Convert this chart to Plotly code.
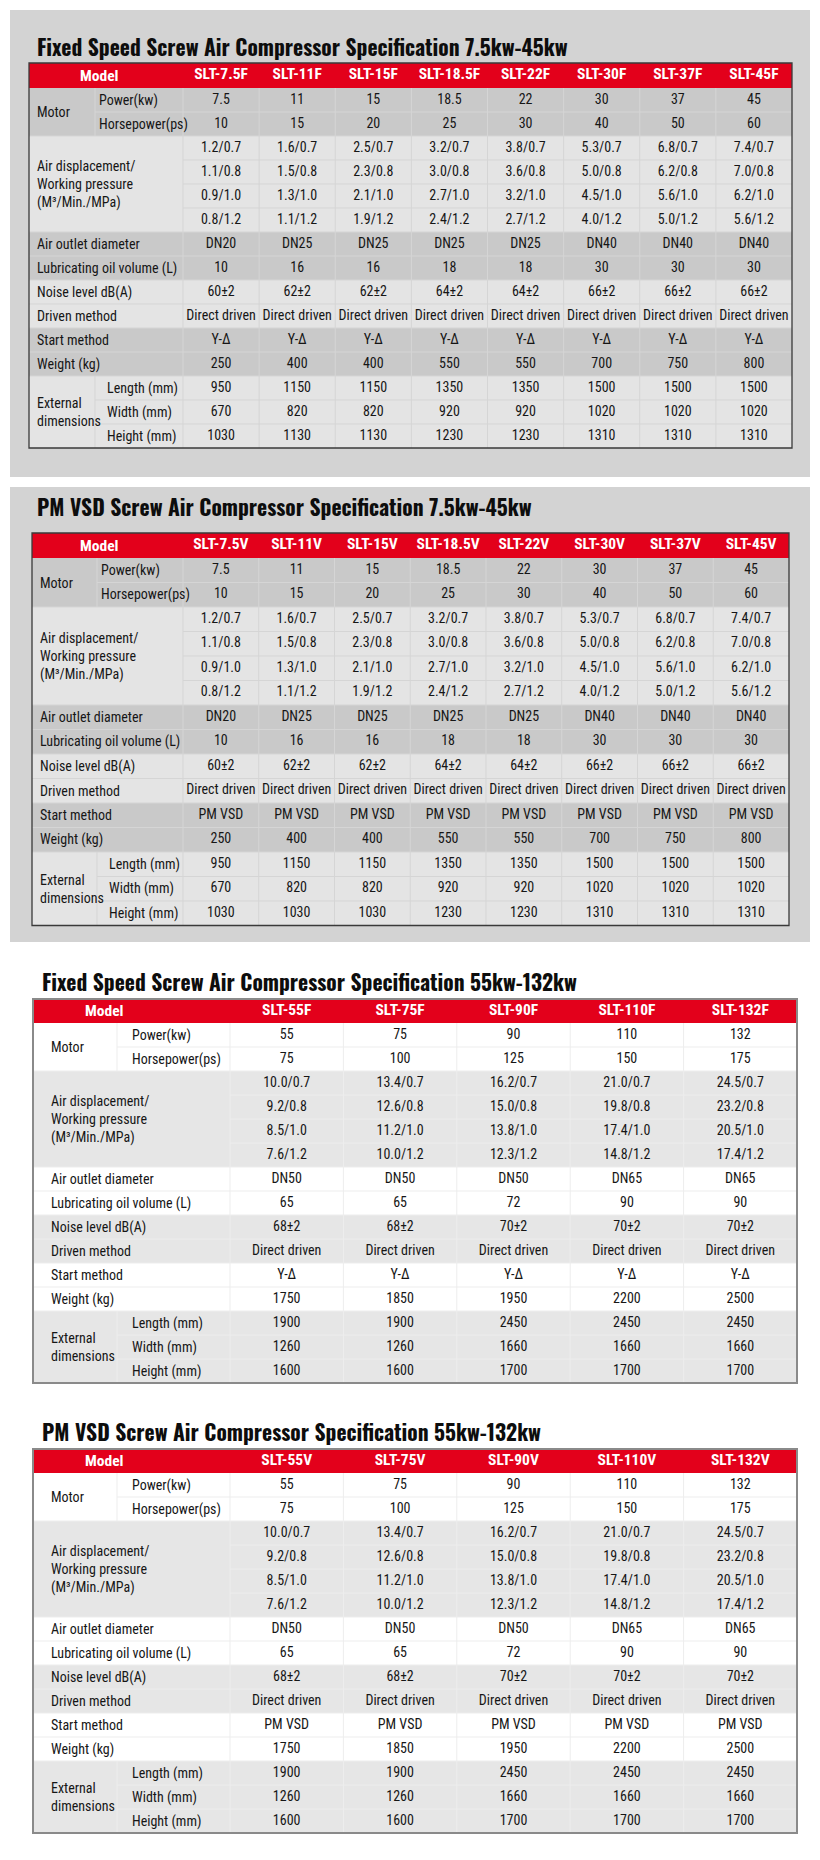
import plotly.graph_objects as go

# ---------------- data ----------------
titles = [
    "Fixed Speed Screw Air Compressor Specification 7.5kw-45kw",
    "PM VSD Screw Air Compressor Specification 7.5kw-45kw",
    "Fixed Speed Screw Air Compressor Specification 55kw-132kw",
    "PM VSD Screw Air Compressor Specification 55kw-132kw",
]

model_label = "Model"
motor_label = "Motor"
motor_sub = ["Power(kw)", "Horsepower(ps)"]
air_label = "Air displacement/<br>Working pressure<br>(M³/Min./MPa)"
single_labels = ["Air outlet diameter", "Lubricating oil volume (L)", "Noise level dB(A)",
                 "Driven method", "Start method", "Weight (kg)"]
ext_label = "External<br>dimensions"
ext_sub = ["Length (mm)", "Width (mm)", "Height (mm)"]

# small range 7.5kw-45kw
models_small_f = ["SLT-7.5F", "SLT-11F", "SLT-15F", "SLT-18.5F", "SLT-22F", "SLT-30F", "SLT-37F", "SLT-45F"]
models_small_v = ["SLT-7.5V", "SLT-11V", "SLT-15V", "SLT-18.5V", "SLT-22V", "SLT-30V", "SLT-37V", "SLT-45V"]
power_small = ["7.5", "11", "15", "18.5", "22", "30", "37", "45"]
hp_small = ["10", "15", "20", "25", "30", "40", "50", "60"]
air07_small = ["1.2/0.7", "1.6/0.7", "2.5/0.7", "3.2/0.7", "3.8/0.7", "5.3/0.7", "6.8/0.7", "7.4/0.7"]
air08_small = ["1.1/0.8", "1.5/0.8", "2.3/0.8", "3.0/0.8", "3.6/0.8", "5.0/0.8", "6.2/0.8", "7.0/0.8"]
air10_small = ["0.9/1.0", "1.3/1.0", "2.1/1.0", "2.7/1.0", "3.2/1.0", "4.5/1.0", "5.6/1.0", "6.2/1.0"]
air12_small = ["0.8/1.2", "1.1/1.2", "1.9/1.2", "2.4/1.2", "2.7/1.2", "4.0/1.2", "5.0/1.2", "5.6/1.2"]
outlet_small = ["DN20", "DN25", "DN25", "DN25", "DN25", "DN40", "DN40", "DN40"]
oil_small = ["10", "16", "16", "18", "18", "30", "30", "30"]
noise_small = ["60±2", "62±2", "62±2", "64±2", "64±2", "66±2", "66±2", "66±2"]
driven_small = ["Direct driven"] * 8
start_small_f = ["Y-Δ"] * 8
start_small_v = ["PM VSD"] * 8
weight_small = ["250", "400", "400", "550", "550", "700", "750", "800"]
length_small = ["950", "1150", "1150", "1350", "1350", "1500", "1500", "1500"]
width_small = ["670", "820", "820", "920", "920", "1020", "1020", "1020"]
height_small_f = ["1030", "1130", "1130", "1230", "1230", "1310", "1310", "1310"]
height_small_v = ["1030", "1030", "1030", "1230", "1230", "1310", "1310", "1310"]

# large range 55kw-132kw
models_large_f = ["SLT-55F", "SLT-75F", "SLT-90F", "SLT-110F", "SLT-132F"]
models_large_v = ["SLT-55V", "SLT-75V", "SLT-90V", "SLT-110V", "SLT-132V"]
power_large = ["55", "75", "90", "110", "132"]
hp_large = ["75", "100", "125", "150", "175"]
air07_large = ["10.0/0.7", "13.4/0.7", "16.2/0.7", "21.0/0.7", "24.5/0.7"]
air08_large = ["9.2/0.8", "12.6/0.8", "15.0/0.8", "19.8/0.8", "23.2/0.8"]
air10_large = ["8.5/1.0", "11.2/1.0", "13.8/1.0", "17.4/1.0", "20.5/1.0"]
air12_large = ["7.6/1.2", "10.0/1.2", "12.3/1.2", "14.8/1.2", "17.4/1.2"]
outlet_large = ["DN50", "DN50", "DN50", "DN65", "DN65"]
oil_large = ["65", "65", "72", "90", "90"]
noise_large = ["68±2", "68±2", "70±2", "70±2", "70±2"]
driven_large = ["Direct driven"] * 5
start_large_f = ["Y-Δ"] * 5
start_large_v = ["PM VSD"] * 5
weight_large = ["1750", "1850", "1950", "2200", "2500"]
length_large = ["1900", "1900", "2450", "2450", "2450"]
width_large = ["1260", "1260", "1660", "1660", "1660"]
height_large = ["1600", "1600", "1700", "1700", "1700"]

table_rows = [
    [power_small, hp_small, air07_small, air08_small, air10_small, air12_small, outlet_small, oil_small,
     noise_small, driven_small, start_small_f, weight_small, length_small, width_small, height_small_f],
    [power_small, hp_small, air07_small, air08_small, air10_small, air12_small, outlet_small, oil_small,
     noise_small, driven_small, start_small_v, weight_small, length_small, width_small, height_small_v],
    [power_large, hp_large, air07_large, air08_large, air10_large, air12_large, outlet_large, oil_large,
     noise_large, driven_large, start_large_f, weight_large, length_large, width_large, height_large],
    [power_large, hp_large, air07_large, air08_large, air10_large, air12_large, outlet_large, oil_large,
     noise_large, driven_large, start_large_v, weight_large, length_large, width_large, height_large],
]
table_models = [models_small_f, models_small_v, models_large_f, models_large_v]

# ---------------- layout / style ----------------
W, H = 820, 1860
RED = "#e3001b"
TXT = "#161616"
BODY_FONT = "Roboto Condensed"
TITLE_FONT = "Oswald"

GRAY_STYLE = dict(A="#c9c9c9", B="#e4e4e4", grid="#d5d5d5", border="#3a3a3a", bw=1.3,
                  pad_main=6, pad_sub=2, pad_ext=10)
WHITE_STYLE = dict(A="#ffffff", B="#e6e6e6", grid="#ededed", border="#8a8a8a", bw=2,
                   pad_main=16, pad_sub=13, pad_ext=13)

configs = [
    dict(panel=(10, 810, 10, 477), title_x=35, title_y=46, cols=(29, 95, 183, 792),
         top=63, hh=25, rh=24, model_x=99, style=GRAY_STYLE),
    dict(panel=(10, 810, 487, 942), title_x=35, title_y=506, cols=(32, 97, 183, 789),
         top=533, hh=25, rh=24.5, model_x=99, style=GRAY_STYLE),
    dict(panel=None, title_x=40, title_y=981, cols=(33, 117, 230, 797),
         top=999, hh=24, rh=24, model_x=104, style=WHITE_STYLE),
    dict(panel=None, title_x=40, title_y=1431, cols=(33, 117, 230, 797),
         top=1449, hh=24, rh=24, model_x=104, style=WHITE_STYLE),
]

fig = go.Figure()
shapes = []
annotations = []


def rect(xa, xb, ya, yb, fill=None, line_color=None, lw=0):
    d = dict(type="rect", xref="x", yref="y", x0=xa, x1=xb, y0=ya, y1=yb, layer="below")
    d["fillcolor"] = fill if fill else "rgba(0,0,0,0)"
    d["line"] = dict(color=line_color if line_color else "rgba(0,0,0,0)", width=lw)
    return d


def hline(xa, xb, yy, color, lw=1):
    return dict(type="line", xref="x", yref="y", x0=xa, x1=xb, y0=yy, y1=yy,
                line=dict(color=color, width=lw), layer="below")


def vline(xx, ya, yb, color, lw=1):
    return dict(type="line", xref="x", yref="y", x0=xx, x1=xx, y0=ya, y1=yb,
                line=dict(color=color, width=lw), layer="below")


def label(x, y, text, size=14, color=TXT, bold=False, xanchor="left", family=BODY_FONT):
    annotations.append(dict(x=x, y=y, xref="x", yref="y", text=text, showarrow=False,
                            xanchor=xanchor, yanchor="middle", align="left",
                            font=dict(family=family, size=size, color=color,
                                      weight=700 if bold else 400)))


groups = [(0, 2, "A"), (2, 6, "B"), (6, 8, "A"), (8, 10, "B"), (10, 12, "A"), (12, 15, "B")]

for t, cfg in enumerate(configs):
    st = cfg["style"]
    x0, c1, c2, x1 = cfg["cols"]
    top, hh, rh = cfg["top"], cfg["hh"], cfg["rh"]
    models = table_models[t]
    rows = table_rows[t]
    n = len(models)
    cw = (x1 - c2) / n
    yb = [top + hh + i * rh for i in range(16)]
    if cfg["panel"]:
        px0, px1, py0, py1 = cfg["panel"]
        shapes.append(rect(px0, px1, py0, py1, fill="#d3d3d3"))
    # title
    label(cfg["title_x"], cfg["title_y"], titles[t], size=21.5, color="#0d0d0d", bold=True,
          family=TITLE_FONT)
    # row backgrounds
    for a, b, g in groups:
        shapes.append(rect(x0, x1, yb[a], yb[b], fill=st[g]))
    # header
    shapes.append(rect(x0, x1, top, top + hh, fill=RED))
    # horizontal grid lines
    for i in range(1, 15):
        if i == 1 or i in (13, 14):
            left = c1
        elif i in (3, 4, 5):
            left = c2
        else:
            left = x0
        shapes.append(hline(left, x1, yb[i], st["grid"]))
    # vertical grid lines
    for j in range(n):
        shapes.append(vline(c2 + j * cw, yb[0], yb[15], st["grid"]))
    shapes.append(vline(c1, yb[0], yb[2], st["grid"]))
    shapes.append(vline(c1, yb[12], yb[15], st["grid"]))
    # border
    shapes.append(rect(x0, x1, top, yb[15], line_color=st["border"], lw=st["bw"]))

    # header texts
    hy = top + hh / 2
    fig.add_trace(go.Scatter(
        x=[c2 + (j + 0.5) * cw for j in range(n)], y=[hy] * n, text=models, mode="text",
        textposition="middle center", hoverinfo="skip", showlegend=False,
        textfont=dict(family=BODY_FONT, size=15.5, color="white", weight=700)))
    label(cfg["model_x"], hy, model_label, size=15.5, color="white", bold=True, xanchor="center")

    # data cells
    xs, ys, tx = [], [], []
    for i, vals in enumerate(rows):
        for j, v in enumerate(vals):
            xs.append(c2 + (j + 0.5) * cw)
            ys.append(yb[i] + rh / 2)
            tx.append(v)
    fig.add_trace(go.Scatter(
        x=xs, y=ys, text=tx, mode="text", textposition="middle center",
        hoverinfo="skip", showlegend=False,
        textfont=dict(family=BODY_FONT, size=14, color=TXT)))

    # row labels
    label(x0 + st["pad_main"], (yb[0] + yb[2]) / 2, motor_label)
    for k, s in enumerate(motor_sub):
        label(c1 + st["pad_sub"], yb[k] + rh / 2, s)
    label(x0 + st["pad_main"], (yb[2] + yb[6]) / 2, air_label)
    for k, s in enumerate(single_labels):
        label(x0 + st["pad_main"], yb[6 + k] + rh / 2, s)
    label(x0 + st["pad_main"], (yb[12] + yb[15]) / 2, ext_label)
    for k, s in enumerate(ext_sub):
        label(c1 + st["pad_ext"], yb[12 + k] + rh / 2, s)

fig.update_layout(
    width=W, height=H, margin=dict(l=0, r=0, t=0, b=0),
    paper_bgcolor="white", plot_bgcolor="white",
    xaxis=dict(range=[0, W], visible=False, fixedrange=True),
    yaxis=dict(range=[H, 0], visible=False, fixedrange=True),
    shapes=shapes, annotations=annotations, showlegend=False,
)

fig.write_html("out.html", config=dict(displayModeBar=False),
               post_script="document.body.style.margin='0';document.body.style.overflow='hidden';")
